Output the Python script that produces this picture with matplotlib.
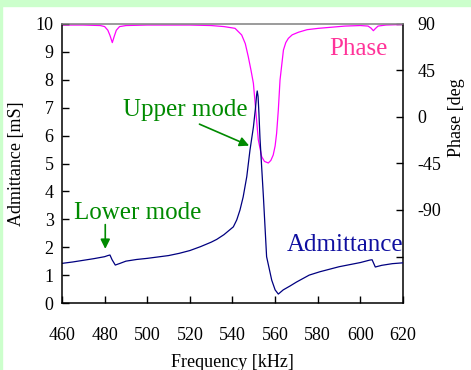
import matplotlib
matplotlib.use("Agg")
import matplotlib.pyplot as plt
from matplotlib.patches import Rectangle

plt.rcParams['font.family'] = ['Liberation Serif', 'DejaVu Serif']

# admittance [mS] vs frequency [kHz]
freq_a = [460, 465, 470, 475, 480, 481.5, 482.5, 483.5, 485, 487.2, 490, 495, 500, 505,
          510, 515, 520, 525, 530, 532.6, 536, 540.4, 542, 543.5, 545, 546.7, 548.2, 549.8,
          550.8, 551.3, 551.6, 552, 552.4, 552.9, 554.5, 556, 558.4, 560, 561.5, 563.8,
          567, 570, 576, 581, 590, 600, 604.5, 605.5, 607, 610, 615, 620]
adm = [1.42, 1.47, 1.53, 1.59, 1.66, 1.70, 1.72, 1.55, 1.36, 1.42, 1.50, 1.56, 1.60, 1.65,
       1.70, 1.78, 1.88, 2.02, 2.18, 2.28, 2.45, 2.73, 2.98, 3.33, 3.8, 4.53, 5.48, 6.3,
       7.0, 7.45, 7.6, 7.4, 6.8, 5.9, 3.81, 1.66, 0.82, 0.47, 0.32, 0.47,
       0.61, 0.75, 1.0, 1.12, 1.3, 1.45, 1.54, 1.55, 1.29, 1.35, 1.41, 1.44]

# phase [deg]
freq_p = [460, 470, 478, 480, 481.5, 482.5, 483.6, 484.5, 485.5, 487, 490, 500, 520, 530,
          536, 541.2, 544.3, 546, 547.4, 548.7, 549.8, 550.9, 552.1, 553.7, 555, 556.8,
          558, 559.1, 560, 560.7, 561.5, 562.3, 563.9, 565, 566.2, 568, 570.9, 575, 580.3,
          592.8, 600, 603.6, 605, 606.1, 607, 608.3, 612, 620]
phase = [89, 89, 88.5, 87.5, 84, 79, 72, 78, 84, 87.5, 88.5, 89, 89, 88.5,
         87.5, 85.8, 79.4, 71, 58.4, 45, 32.6, 6.8, -22, -38.4, -43, -44.5,
         -42, -36.8, -28, -15.8, 6.8, 35.8, 64.8, 72, 76.1, 79.5, 82, 84.5, 85.8,
         88, 88.5, 88, 86, 83.5, 85.5, 88, 89, 89.5]

x_ticks = [460, 480, 500, 520, 540, 560, 580, 600, 620]
y_ticks = list(range(0, 11))
p_ticks = [90, 45, 0, -45, -90, -135]
p_labels = ['90', '45', '0', '-45', '-90', '']

green = '#008a00'

fig = plt.figure(figsize=(4.71, 3.70), dpi=100)
fig.patch.set_facecolor('white')
# light green frame (top band + left strip)
fig.patches.append(Rectangle((0, 1 - 6/370), 1, 6/370, transform=fig.transFigure,
                             color='#ccffcc', zorder=0))
fig.patches.append(Rectangle((0, 0), 2/471, 1, transform=fig.transFigure,
                             color='#ccffcc', zorder=0))

ax = fig.add_axes([62/471, 1 - 303/370, 341/471, 279/370])
ax2 = ax.twinx()
ax.set_zorder(ax2.get_zorder() + 1)
ax.patch.set_visible(False)

ax2.plot(freq_p, phase, color='#ff00ff', lw=0.9)
ax.plot(freq_a, adm, color='#000080', lw=0.9)

ax.set_xlim(460, 620)
ax.set_ylim(0, 10)
ax2.set_ylim(-180, 90)

ax.set_xticks(x_ticks)
ax.set_yticks(y_ticks)
ax2.set_yticks(p_ticks)
ax2.set_yticklabels(p_labels)

ax.tick_params(axis='x', direction='in', length=5, width=1, labelsize=13, pad=17.5)
ax.tick_params(axis='y', direction='in', length=5, width=1, labelsize=13, pad=6)
ax2.tick_params(axis='y', direction='in', length=5, width=1, labelsize=13, pad=10.5)

for s in ['left', 'bottom']:
    ax.spines[s].set_linewidth(1.1)
ax.spines['right'].set_visible(False)
ax.spines['top'].set_color('#808080')
ax.spines['top'].set_linewidth(1.1)
for s in ['left', 'bottom', 'top']:
    ax2.spines[s].set_visible(False)
ax2.spines['right'].set_linewidth(1.1)

ax.set_xlabel('Frequency [kHz]', fontsize=13)
ax.xaxis.set_label_coords(0.5, -0.183)
ax.set_ylabel('Admittance [mS]', fontsize=13)
ax.yaxis.set_label_coords(-0.108, 0.5)
ax2.set_ylabel('Phase [deg', fontsize=13)
ax2.yaxis.set_label_coords(1.132, 0.665)

# annotations
ax.text(488.6, 6.70, 'Upper mode', color=green, fontsize=18, va='baseline')
ax.annotate('', xy=(549.0, 5.60), xytext=(523.3, 6.45),
            arrowprops=dict(arrowstyle='-|>', color=green, lw=1.2, mutation_scale=14))
ax.text(465.6, 3.0, 'Lower mode', color=green, fontsize=18, va='baseline')
ax.annotate('', xy=(480.3, 1.84), xytext=(480.3, 2.91),
            arrowprops=dict(arrowstyle='-|>', color=green, lw=1.2, mutation_scale=14))
ax.text(585.4, 8.89, 'Phase', color='#ff3399', fontsize=18, va='baseline')
ax.text(565.4, 1.87, 'Admittance', color='#1010a0', fontsize=18, va='baseline')

fig.savefig('out.png', dpi=100)
